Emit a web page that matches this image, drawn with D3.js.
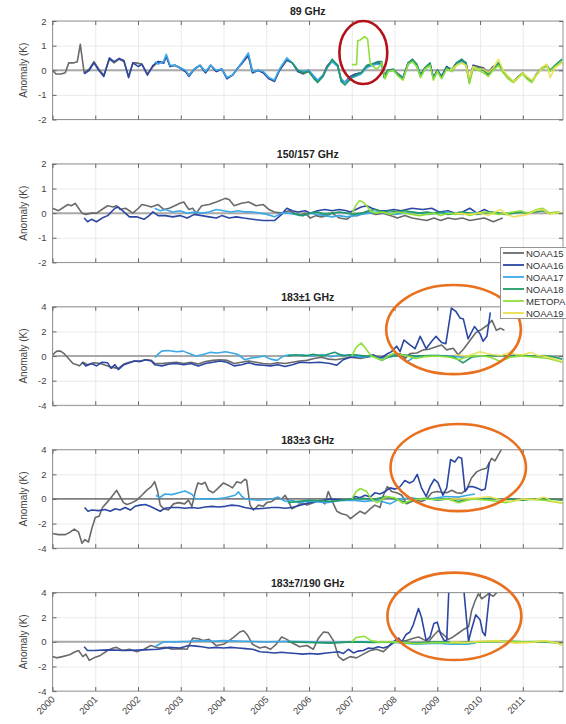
<!DOCTYPE html>
<html><head><meta charset="utf-8">
<script src="https://cdn.jsdelivr.net/npm/d3@7"></script>
<style>
body{margin:0;background:#fff;}
svg{display:block;font-family:"Liberation Sans",Arial,Helvetica,sans-serif;}
</style></head>
<body><svg id="chart" width="566" height="724"></svg>
<script>
// ---------- DATA ----------
const years = [2000,2001,2002,2003,2004,2005,2006,2007,2008,2009,2010,2011];
const panelTitles = ["89 GHz","150/157 GHz","183\u00B11 GHz","183\u00B13 GHz","183\u00B17/190 GHz"];
const panelYMax = [2,2,4,4,4];
const yTicksSmall = [-2,-1,0,1,2];
const yTicksLarge = [-4,-2,0,2,4];
const satNames = ["NOAA15","NOAA16","NOAA17","NOAA18","METOPA","NOAA19"];
const satColors = ["#6a6a6a","#2b47a3","#3ba8e8","#1f9a68","#8fdf3a","#eadf4e"];

// Panel 1: 89 GHz
const p1_NOAA15 = [[2000.0,0.0],[2000.08,-0.15],[2000.2,-0.15],[2000.3,-0.1],[2000.38,0.3],[2000.5,0.3],[2000.58,0.35],[2000.65,1.05],[2000.74,-0.1],[2000.86,0.05],[2000.97,0.35],[2001.08,0.05],[2001.2,-0.2],[2001.33,0.45],[2001.44,0.3],[2001.56,0.45],[2001.67,0.35],[2001.78,-0.25],[2001.88,0.3],[2001.95,0.3],[2002.09,0.25],[2002.22,-0.15],[2002.35,0.15],[2002.47,0.35],[2002.6,0.3],[2002.66,0.6],[2002.75,0.15],[2002.86,0.2],[2002.98,0.1],[2003.11,-0.05],[2003.19,-0.2],[2003.32,0.05],[2003.45,0.2],[2003.58,-0.1],[2003.7,0.2],[2003.83,-0.05],[2003.96,0.05],[2004.08,-0.3],[2004.21,-0.2],[2004.34,0.1],[2004.44,0.3],[2004.58,0.6],[2004.68,-0.1],[2004.81,0.0],[2004.93,-0.1],[2005.06,-0.3],[2005.19,-0.45],[2005.31,0.0],[2005.48,0.4],[2005.61,0.3],[2005.74,-0.05],[2005.86,-0.15],[2005.99,-0.05],[2006.12,-0.3],[2006.2,-0.45],[2006.33,-0.2],[2006.42,0.15],[2006.54,0.4],[2006.67,0.2],[2006.75,-0.35],[2006.84,-0.5],[2006.97,-0.25],[2007.09,-0.15],[2007.22,-0.1],[2007.35,0.15],[2007.47,0.2],[2007.6,0.3],[2007.7,0.25],[2007.76,-0.2],[2007.85,0.0],[2007.97,0.0],[2008.09,-0.15],[2008.2,-0.3],[2008.32,0.3],[2008.42,0.35],[2008.52,0.2],[2008.61,-0.2],[2008.71,0.1],[2008.83,0.25],[2008.91,-0.3],[2009.0,0.0],[2009.1,-0.25],[2009.22,0.15],[2009.34,0.0],[2009.45,0.3],[2009.57,0.35],[2009.67,0.3],[2009.75,-0.4],[2009.84,0.2],[2009.96,0.15],[2010.08,0.1],[2010.19,-0.1],[2010.3,0.15],[2010.45,0.2]];
const p1_NOAA16 = [[2000.74,-0.15],[2000.86,0.0],[2000.97,0.3],[2001.08,0.0],[2001.2,-0.25],[2001.33,0.5],[2001.44,0.35],[2001.56,0.48],[2001.67,0.4],[2001.78,-0.3],[2001.88,0.3],[2002.01,0.15],[2002.09,0.25],[2002.22,-0.2],[2002.35,0.2],[2002.47,0.35],[2002.6,0.3],[2002.66,0.55],[2002.75,0.15],[2002.86,0.2],[2002.98,0.1],[2003.11,-0.05],[2003.19,-0.25],[2003.32,0.05],[2003.45,0.2],[2003.58,-0.1],[2003.7,0.2],[2003.83,-0.05],[2003.96,0.05],[2004.08,-0.35],[2004.21,-0.2],[2004.34,0.1],[2004.44,0.3],[2004.58,0.6],[2004.68,-0.1],[2004.81,0.0],[2004.93,-0.1],[2005.06,-0.35],[2005.19,-0.45],[2005.31,0.0],[2005.48,0.45],[2005.61,0.3],[2005.74,-0.05],[2005.86,-0.1],[2005.99,0.0],[2006.12,-0.3],[2006.2,-0.45],[2006.33,-0.2],[2006.42,0.15],[2006.54,0.4],[2006.67,0.2],[2006.75,-0.4],[2006.84,-0.5],[2006.97,-0.25],[2007.09,-0.15],[2007.22,-0.1],[2007.35,0.15],[2007.47,0.2],[2007.6,0.3],[2007.7,0.25],[2007.76,-0.25],[2007.85,0.0],[2007.97,0.0],[2008.09,-0.2],[2008.2,-0.3],[2008.32,0.3],[2008.42,0.4],[2008.52,0.2],[2008.61,-0.2],[2008.71,0.1],[2008.83,0.25],[2008.91,-0.3],[2009.0,0.0],[2009.1,-0.25],[2009.22,0.15],[2009.34,0.0],[2009.45,0.3],[2009.57,0.4],[2009.67,0.3],[2009.75,-0.45],[2009.84,0.2],[2009.96,0.1],[2010.08,0.05],[2010.19,-0.15],[2010.3,0.1]];
const p1_NOAA17 = [[2002.39,0.35],[2002.47,0.25],[2002.6,0.35],[2002.66,0.65],[2002.75,0.2],[2002.86,0.2],[2002.98,0.1],[2003.11,0.0],[2003.19,-0.2],[2003.32,0.05],[2003.45,0.2],[2003.58,-0.05],[2003.7,0.2],[2003.83,0.0],[2003.96,0.05],[2004.08,-0.3],[2004.21,-0.2],[2004.34,0.1],[2004.44,0.35],[2004.58,0.7],[2004.68,-0.05],[2004.81,0.0],[2004.93,-0.05],[2005.06,-0.3],[2005.19,-0.4],[2005.31,0.05],[2005.48,0.5],[2005.61,0.3],[2005.74,0.0],[2005.86,-0.05],[2005.99,0.0],[2006.12,-0.25],[2006.2,-0.4],[2006.33,-0.2],[2006.42,0.1],[2006.54,0.35],[2006.67,0.15],[2006.75,-0.35],[2006.84,-0.5],[2006.97,-0.3],[2007.09,-0.25],[2007.22,-0.15],[2007.35,0.1],[2007.47,0.2],[2007.6,0.25],[2007.7,0.2],[2007.76,-0.3],[2007.85,-0.05],[2007.97,0.0],[2008.09,-0.2],[2008.2,-0.3],[2008.32,0.25],[2008.42,0.35],[2008.52,0.15],[2008.61,-0.25],[2008.71,0.05],[2008.83,0.2],[2008.91,-0.3],[2009.0,-0.05],[2009.1,-0.3],[2009.22,0.1],[2009.34,-0.05],[2009.45,0.25],[2009.57,0.35],[2009.67,0.25],[2009.75,-0.4],[2009.84,0.15],[2009.92,0.05]];
const p1_NOAA18 = [[2005.55,0.35],[2005.61,0.3],[2005.74,0.0],[2005.86,-0.1],[2005.99,-0.05],[2006.12,-0.35],[2006.2,-0.5],[2006.33,-0.25],[2006.42,0.1],[2006.54,0.45],[2006.67,0.2],[2006.75,-0.45],[2006.84,-0.6],[2006.97,-0.35],[2007.09,-0.2],[2007.22,-0.1],[2007.35,0.2],[2007.47,0.25],[2007.6,0.35],[2007.7,0.35],[2007.76,-0.3],[2007.85,0.0],[2007.97,0.05],[2008.09,-0.2],[2008.2,-0.35],[2008.32,0.3],[2008.42,0.45],[2008.52,0.25],[2008.61,-0.2],[2008.71,0.1],[2008.83,0.3],[2008.91,-0.35],[2009.0,0.0],[2009.1,-0.3],[2009.22,0.1],[2009.34,0.05],[2009.45,0.3],[2009.57,0.45],[2009.67,0.3],[2009.75,-0.5],[2009.84,0.15],[2009.96,0.1],[2010.08,0.0],[2010.19,-0.2],[2010.31,0.05],[2010.43,0.3],[2010.54,-0.05],[2010.66,-0.3],[2010.78,-0.45],[2010.9,-0.25],[2011.0,-0.1],[2011.09,-0.3],[2011.21,-0.45],[2011.32,-0.15],[2011.44,0.1],[2011.56,0.2],[2011.64,0.0],[2011.75,0.2],[2011.92,0.45]];
const p1_METOPA = [[2007.0,0.23],[2007.11,0.23],[2007.14,1.2],[2007.2,1.23],[2007.3,1.36],[2007.37,1.27],[2007.43,0.27],[2007.52,0.12],[2007.6,0.05],[2007.7,0.3],[2007.78,-0.35],[2007.85,-0.05],[2007.97,0.0],[2008.09,-0.25],[2008.2,-0.4],[2008.32,0.25],[2008.42,0.35],[2008.52,0.15],[2008.61,-0.3],[2008.71,0.05],[2008.83,0.2],[2008.91,-0.4],[2009.0,-0.05],[2009.1,-0.35],[2009.22,0.05],[2009.34,-0.05],[2009.45,0.2],[2009.57,0.3],[2009.67,0.2],[2009.75,-0.55],[2009.84,0.1],[2009.96,0.0],[2010.08,-0.1],[2010.19,-0.25],[2010.31,0.0],[2010.43,0.2],[2010.54,-0.1],[2010.66,-0.35],[2010.78,-0.5],[2010.9,-0.3],[2011.0,-0.15],[2011.09,-0.35],[2011.21,-0.5],[2011.32,-0.2],[2011.44,0.05],[2011.56,0.15],[2011.64,-0.05],[2011.75,0.15],[2011.92,0.35]];
const p1_NOAA19 = [[2009.3,0.0],[2009.45,0.2],[2009.57,0.3],[2009.67,0.2],[2009.75,-0.3],[2009.84,0.15],[2009.96,0.05],[2010.08,0.05],[2010.19,-0.1],[2010.31,0.1],[2010.43,0.45],[2010.54,0.0],[2010.66,-0.25],[2010.78,-0.45],[2010.9,-0.3],[2011.0,-0.1],[2011.09,-0.25],[2011.21,-0.4],[2011.32,-0.2],[2011.44,0.1],[2011.56,0.25],[2011.64,-0.3],[2011.75,0.1],[2011.92,0.3]];

// Panel 2: 150/157 GHz
const p2_NOAA15 = [[2000.0,0.2],[2000.14,0.1],[2000.36,0.35],[2000.44,0.3],[2000.53,0.4],[2000.57,0.3],[2000.69,0.0],[2000.78,-0.05],[2000.91,0.0],[2001.03,0.0],[2001.2,0.2],[2001.29,0.3],[2001.42,0.25],[2001.5,0.3],[2001.58,0.15],[2001.71,0.2],[2001.88,0.0],[2002.01,0.2],[2002.09,0.35],[2002.22,0.3],[2002.31,0.25],[2002.47,0.35],[2002.6,0.15],[2002.73,0.2],[2002.86,0.3],[2002.98,0.4],[2003.07,0.45],[2003.19,0.15],[2003.28,0.2],[2003.36,0.0],[2003.49,0.3],[2003.66,0.35],[2003.83,0.45],[2004.04,0.6],[2004.13,0.55],[2004.25,0.3],[2004.42,0.4],[2004.59,0.45],[2004.76,0.3],[2004.93,0.35],[2005.06,0.15],[2005.19,0.05],[2005.36,0.0],[2005.53,0.1],[2005.65,0.0],[2005.78,-0.1],[2005.91,0.0],[2006.03,-0.2],[2006.16,-0.1],[2006.29,-0.15],[2006.42,-0.1],[2006.54,0.0],[2006.71,-0.2],[2006.88,-0.25],[2007.01,-0.1],[2007.14,-0.1],[2007.26,0.0],[2007.39,0.05],[2007.56,-0.05],[2007.73,0.0],[2007.9,-0.1],[2008.07,-0.2],[2008.24,-0.1],[2008.41,-0.2],[2008.58,-0.25],[2008.75,-0.3],[2008.92,-0.2],[2009.08,-0.3],[2009.25,-0.2],[2009.42,-0.25],[2009.59,-0.2],[2009.76,-0.3],[2009.93,-0.25],[2010.1,-0.2],[2010.31,-0.35],[2010.53,-0.2]];
const p2_NOAA16 = [[2000.74,-0.2],[2000.82,-0.35],[2000.91,-0.25],[2001.03,-0.35],[2001.16,-0.2],[2001.29,-0.1],[2001.46,0.2],[2001.54,0.25],[2001.67,0.05],[2001.8,-0.15],[2001.97,-0.15],[2002.14,-0.25],[2002.26,-0.1],[2002.35,0.05],[2002.47,-0.1],[2002.64,-0.1],[2002.81,-0.15],[2002.98,-0.1],[2003.15,-0.2],[2003.32,-0.05],[2003.49,-0.1],[2003.66,-0.15],[2003.83,-0.2],[2003.96,-0.1],[2004.13,-0.2],[2004.3,-0.15],[2004.47,-0.2],[2004.68,-0.25],[2004.93,-0.3],[2005.19,-0.3],[2005.36,-0.05],[2005.48,0.2],[2005.61,0.1],[2005.74,0.05],[2005.91,0.1],[2006.03,0.0],[2006.2,0.1],[2006.37,0.15],[2006.54,0.1],[2006.71,0.15],[2006.88,0.1],[2006.97,0.05],[2007.22,0.25],[2007.35,0.3],[2007.47,0.2],[2007.64,0.1],[2007.81,0.1],[2007.98,0.15],[2008.15,0.1],[2008.41,0.2],[2008.66,0.15],[2008.87,0.2],[2009.04,0.05],[2009.25,0.1],[2009.42,0.0],[2009.59,0.05],[2009.76,0.2],[2009.93,0.0],[2010.1,0.15],[2010.27,0.0]];
const p2_NOAA17 = [[2002.39,0.2],[2002.52,0.1],[2002.64,0.15],[2002.81,0.05],[2002.98,0.1],[2003.15,0.0],[2003.32,0.05],[2003.49,0.0],[2003.66,0.05],[2003.83,0.15],[2004.0,0.1],[2004.17,0.05],[2004.34,0.1],[2004.51,0.05],[2004.68,0.05],[2004.85,0.0],[2005.02,-0.05],[2005.19,-0.15],[2005.36,0.0],[2005.53,0.0],[2005.69,-0.05],[2005.86,-0.1],[2006.03,0.0],[2006.2,-0.05],[2006.37,-0.1],[2006.54,-0.15],[2006.71,-0.1],[2006.88,-0.15],[2007.05,-0.1],[2007.22,-0.05],[2007.4,0.0],[2007.6,0.05],[2007.8,0.0],[2008.0,-0.05],[2008.2,0.0],[2008.4,0.05],[2008.6,0.0],[2008.8,-0.05],[2009.0,0.0],[2009.2,0.05],[2009.4,0.0],[2009.6,-0.05],[2009.8,0.0],[2009.9,0.05]];
const p2_NOAA18 = [[2005.61,0.0],[2005.86,-0.1],[2006.03,0.0],[2006.2,0.05],[2006.37,-0.05],[2006.54,0.0],[2006.71,0.05],[2006.88,0.0],[2007.05,-0.05],[2007.22,0.0],[2007.39,0.1],[2007.56,0.15],[2007.73,0.05],[2007.9,0.1],[2008.07,0.05],[2008.24,0.1],[2008.41,0.05],[2008.58,0.0],[2008.75,0.05],[2008.92,0.0],[2009.08,0.05],[2009.25,-0.05],[2009.42,0.0],[2009.59,0.05],[2009.76,0.0],[2009.93,-0.05],[2010.1,0.0],[2010.27,0.05],[2010.44,0.0],[2010.61,-0.05],[2010.78,0.0],[2010.95,0.05],[2011.12,0.0],[2011.29,0.05],[2011.46,0.1],[2011.63,0.0],[2011.8,0.05],[2011.92,0.0]];
const p2_METOPA = [[2007.01,0.0],[2007.09,0.3],[2007.18,0.5],[2007.26,0.45],[2007.35,0.3],[2007.43,0.1],[2007.56,0.0],[2007.73,0.05],[2007.9,-0.05],[2008.07,0.05],[2008.24,0.0],[2008.41,-0.05],[2008.58,-0.1],[2008.75,-0.05],[2008.92,0.0],[2009.08,-0.1],[2009.25,0.0],[2009.42,-0.05],[2009.59,0.0],[2009.76,-0.1],[2009.93,0.0],[2010.1,0.05],[2010.27,0.0],[2010.44,-0.05],[2010.61,0.0],[2010.78,0.05],[2010.95,0.1],[2011.12,0.0],[2011.33,0.15],[2011.46,0.2],[2011.63,0.0],[2011.92,0.0]];
const p2_NOAA19 = [[2009.4,0.0],[2009.7,-0.05],[2010.02,0.0],[2010.19,-0.1],[2010.36,0.05],[2010.48,0.15],[2010.61,-0.05],[2010.78,-0.15],[2010.95,-0.1],[2011.12,-0.05],[2011.29,0.1],[2011.46,0.15],[2011.63,-0.05],[2011.8,0.05],[2011.92,0.0]];

// Panel 3: 183±1 GHz
const p3_NOAA15 = [[2000.0,0.1],[2000.1,0.4],[2000.19,0.4],[2000.27,0.2],[2000.4,-0.3],[2000.48,-0.6],[2000.57,-0.7],[2000.63,-0.8],[2000.71,-0.5],[2000.82,-0.7],[2000.97,-0.55],[2001.12,-0.6],[2001.29,-0.8],[2001.37,-0.9],[2001.54,-1.0],[2001.67,-0.65],[2001.8,-0.5],[2001.92,-0.4],[2002.05,-0.4],[2002.18,-0.3],[2002.31,-0.35],[2002.39,-0.6],[2002.56,-0.6],[2002.73,-0.55],[2002.9,-0.5],[2003.07,-0.6],[2003.24,-0.5],[2003.41,-0.65],[2003.58,-0.45],[2003.75,-0.35],[2003.92,-0.3],[2004.08,-0.35],[2004.25,-0.6],[2004.42,-0.5],[2004.59,-0.4],[2004.76,-0.5],[2004.93,-0.6],[2005.1,-0.65],[2005.27,-0.55],[2005.44,-0.6],[2005.61,-0.5],[2005.78,-0.4],[2005.95,-0.35],[2006.12,-0.2],[2006.29,-0.1],[2006.46,-0.25],[2006.63,-0.3],[2006.8,-0.2],[2006.97,-0.1],[2007.2,-0.2],[2007.5,0.0],[2007.7,-0.1],[2007.9,0.0],[2008.13,0.2],[2008.25,-0.2],[2008.36,0.2],[2008.52,0.25],[2008.67,0.5],[2008.8,0.55],[2008.99,0.77],[2009.1,0.9],[2009.22,0.5],[2009.37,0.63],[2009.49,0.1],[2009.62,0.6],[2009.75,1.2],[2009.9,1.9],[2010.05,2.2],[2010.17,2.5],[2010.28,2.9],[2010.38,2.1],[2010.48,2.25],[2010.57,2.1]];
const p3_NOAA16 = [[2000.69,-0.5],[2000.78,-0.8],[2000.91,-0.6],[2001.03,-0.8],[2001.16,-0.5],[2001.29,-0.55],[2001.37,-1.0],[2001.46,-0.7],[2001.54,-1.1],[2001.67,-0.7],[2001.8,-0.55],[2001.92,-0.4],[2002.05,-0.45],[2002.18,-0.3],[2002.31,-0.4],[2002.39,-0.7],[2002.56,-0.8],[2002.73,-0.65],[2002.9,-0.6],[2003.07,-0.7],[2003.24,-0.6],[2003.41,-0.8],[2003.58,-0.6],[2003.75,-0.5],[2003.92,-0.4],[2004.08,-0.5],[2004.25,-0.8],[2004.42,-0.7],[2004.59,-0.55],[2004.76,-0.7],[2004.93,-0.75],[2005.1,-0.8],[2005.27,-0.7],[2005.44,-0.85],[2005.61,-0.7],[2005.79,-0.5],[2006.02,-0.55],[2006.25,-0.5],[2006.49,-0.6],[2006.65,-0.74],[2006.8,-0.3],[2006.96,-0.1],[2007.2,-0.05],[2007.35,-0.05],[2007.5,0.1],[2007.66,-0.2],[2007.82,0.16],[2007.93,0.36],[2008.05,0.8],[2008.13,0.36],[2008.22,1.3],[2008.36,0.9],[2008.48,0.6],[2008.6,1.6],[2008.74,0.6],[2008.87,1.2],[2008.97,1.6],[2009.1,1.1],[2009.2,1.0],[2009.33,3.9],[2009.44,3.6],[2009.53,3.1],[2009.61,3.0],[2009.72,1.4],[2009.87,2.4],[2010.0,1.8],[2010.07,1.2],[2010.16,1.6],[2010.24,3.55]];
const p3_NOAA17 = [[2002.39,-0.1],[2002.55,0.4],[2002.7,0.45],[2002.9,0.35],[2003.05,0.4],[2003.2,0.2],[2003.35,0.0],[2003.5,0.1],[2003.7,0.3],[2003.85,0.25],[2004.05,0.35],[2004.25,0.2],[2004.35,0.1],[2004.5,-0.3],[2004.65,-0.15],[2004.8,-0.1],[2004.95,0.0],[2005.1,-0.25],[2005.25,-0.35],[2005.4,0.0],[2005.55,0.1],[2005.7,0.05],[2005.85,0.1],[2006.05,0.0],[2006.3,0.1],[2006.5,-0.05],[2006.75,0.1],[2007.0,0.05],[2007.25,-0.1],[2007.5,0.0],[2007.7,-0.3],[2007.9,0.1],[2008.1,0.0],[2008.3,-0.45],[2008.45,-0.1],[2008.7,0.0],[2009.0,0.05],[2009.3,0.0],[2009.6,-0.1],[2009.9,0.05]];
const p3_NOAA18 = [[2005.5,0.0],[2005.7,0.1],[2005.9,0.0],[2006.1,0.15],[2006.3,0.0],[2006.6,0.3],[2006.8,0.0],[2006.95,0.1],[2007.1,0.1],[2007.3,0.0],[2007.5,0.0],[2007.7,-0.35],[2007.85,-0.1],[2008.0,0.0],[2008.2,0.1],[2008.5,0.0],[2008.8,0.05],[2009.0,0.05],[2009.2,0.0],[2009.4,-0.1],[2009.6,-0.55],[2009.8,-0.1],[2010.0,0.0],[2010.3,0.05],[2010.6,0.0],[2010.9,0.1],[2011.2,0.0],[2011.5,0.05],[2011.75,-0.1],[2011.92,-0.25]];
const p3_METOPA = [[2007.0,0.0],[2007.1,0.7],[2007.22,1.05],[2007.33,0.6],[2007.45,0.0],[2007.6,-0.2],[2007.72,-0.35],[2007.85,0.0],[2008.0,0.25],[2008.15,0.1],[2008.3,0.0],[2008.5,-0.2],[2008.7,-0.05],[2009.0,0.0],[2009.3,-0.1],[2009.5,-0.3],[2009.7,-0.05],[2010.0,0.05],[2010.25,-0.1],[2010.47,-0.45],[2010.7,-0.1],[2011.0,0.0],[2011.3,-0.1],[2011.6,-0.2],[2011.92,-0.5]];
const p3_NOAA19 = [[2009.4,0.1],[2009.7,0.0],[2010.0,0.35],[2010.15,0.2],[2010.3,0.1],[2010.5,0.05],[2010.7,0.3],[2010.85,0.1],[2011.0,0.1],[2011.2,0.3],[2011.35,0.05],[2011.5,0.0],[2011.7,-0.2],[2011.92,-0.45]];

// Panel 4: 183±3 GHz
const p4_NOAA15 = [[2000.0,-2.8],[2000.14,-2.9],[2000.3,-2.9],[2000.41,-2.7],[2000.51,-2.45],[2000.61,-2.7],[2000.69,-3.6],[2000.76,-3.3],[2000.84,-3.5],[2000.92,-2.4],[2001.0,-1.5],[2001.09,-1.4],[2001.17,-0.7],[2001.27,-0.3],[2001.39,0.2],[2001.5,0.7],[2001.58,0.2],[2001.66,-0.3],[2001.74,-0.45],[2001.86,-0.3],[2001.97,-0.1],[2002.09,0.3],[2002.2,0.7],[2002.31,1.0],[2002.39,1.4],[2002.46,0.6],[2002.52,-0.5],[2002.6,-0.8],[2002.71,-0.9],[2002.83,-0.4],[2002.95,-0.3],[2003.09,-0.4],[2003.18,-0.1],[2003.26,-0.6],[2003.34,0.6],[2003.4,1.3],[2003.49,1.2],[2003.57,1.35],[2003.65,0.7],[2003.76,0.5],[2003.88,0.9],[2004.0,1.3],[2004.12,1.1],[2004.21,0.9],[2004.31,1.4],[2004.41,1.3],[2004.5,1.6],[2004.54,1.5],[2004.62,-0.5],[2004.7,-0.9],[2004.82,-0.5],[2004.93,-0.6],[2005.01,-0.3],[2005.13,-0.2],[2005.25,0.1],[2005.36,0.0],[2005.44,0.3],[2005.52,-0.2],[2005.6,-0.8],[2005.71,-0.6],[2005.83,-0.3],[2005.95,-0.5],[2006.1,-0.3],[2006.26,-0.1],[2006.37,-0.4],[2006.45,0.6],[2006.57,-0.4],[2006.65,-1.0],[2006.76,-1.2],[2006.88,-1.3],[2006.97,-1.6],[2007.08,-1.3],[2007.19,-1.0],[2007.31,-1.2],[2007.43,-0.8],[2007.54,-0.5],[2007.66,-0.7],[2007.74,0.3],[2007.83,1.0],[2007.93,0.6],[2008.05,0.5],[2008.17,0.3],[2008.28,-0.4],[2008.4,-0.2],[2008.52,-0.1],[2008.63,-0.2],[2008.75,0.0],[2008.87,0.5],[2008.99,0.6],[2009.1,0.55],[2009.22,0.5],[2009.34,0.7],[2009.45,0.5],[2009.57,0.45],[2009.69,0.8],[2009.8,1.7],[2009.92,2.2],[2010.04,2.4],[2010.15,2.5],[2010.27,3.3],[2010.35,3.1],[2010.43,3.6],[2010.5,4.0]];
const p4_NOAA16 = [[2000.75,-0.7],[2000.83,-1.0],[2000.92,-0.9],[2001.08,-0.95],[2001.23,-0.85],[2001.35,-1.0],[2001.47,-0.8],[2001.58,-0.9],[2001.7,-0.7],[2001.82,-0.9],[2001.93,-0.6],[2002.05,-0.5],[2002.17,-0.45],[2002.28,-0.6],[2002.4,-0.8],[2002.52,-1.0],[2002.63,-0.75],[2002.79,-0.7],[2002.95,-0.7],[2003.1,-0.75],[2003.26,-0.7],[2003.41,-0.75],[2003.57,-0.65],[2003.73,-0.6],[2003.88,-0.65],[2004.04,-0.6],[2004.19,-0.5],[2004.35,-0.55],[2004.5,-0.7],[2004.66,-0.8],[2004.82,-0.8],[2004.97,-0.75],[2005.13,-0.7],[2005.28,-0.7],[2005.44,-0.75],[2005.6,-0.7],[2005.75,-0.55],[2005.91,-0.4],[2006.02,-0.3],[2006.26,-0.15],[2006.49,0.0],[2006.72,-0.05],[2006.96,-0.1],[2007.08,0.2],[2007.19,0.1],[2007.31,0.3],[2007.43,0.15],[2007.54,0.5],[2007.66,0.4],[2007.78,0.6],[2007.89,0.9],[2008.01,0.8],[2008.13,1.0],[2008.24,1.5],[2008.35,1.3],[2008.44,1.45],[2008.53,2.0],[2008.63,0.9],[2008.74,0.2],[2008.83,1.0],[2008.93,1.6],[2009.02,1.3],[2009.13,0.3],[2009.22,0.9],[2009.31,3.2],[2009.41,3.0],[2009.49,3.4],[2009.57,3.3],[2009.65,0.6],[2009.73,1.0],[2009.83,1.0],[2009.92,0.9],[2010.04,0.7],[2010.12,0.8],[2010.22,3.0]];
const p4_NOAA17 = [[2002.42,0.3],[2002.5,0.1],[2002.63,0.4],[2002.79,0.35],[2002.95,0.5],[2003.1,0.65],[2003.26,0.38],[2003.34,0.03],[2003.57,0.0],[2003.8,0.0],[2004.04,0.1],[2004.27,0.3],[2004.35,0.57],[2004.43,0.2],[2004.5,0.0],[2004.82,-0.1],[2005.13,0.0],[2005.28,0.15],[2005.44,-0.2],[2005.6,-0.1],[2005.75,-0.3],[2005.91,-0.2],[2006.1,-0.2],[2006.4,-0.3],[2006.7,-0.15],[2007.0,-0.1],[2007.3,-0.2],[2007.6,-0.1],[2007.9,-0.4],[2008.1,0.0],[2008.4,0.1],[2008.6,-0.05],[2008.9,0.05],[2009.2,0.2],[2009.5,0.15],[2009.7,0.3],[2009.88,0.4]];
const p4_NOAA18 = [[2005.5,-0.3],[2005.75,-0.2],[2006.0,-0.1],[2006.25,-0.15],[2006.5,-0.2],[2006.75,-0.1],[2007.0,0.0],[2007.25,0.05],[2007.5,-0.05],[2007.8,0.2],[2008.0,0.0],[2008.3,-0.3],[2008.5,0.0],[2008.75,0.05],[2009.0,-0.1],[2009.25,0.0],[2009.5,-0.2],[2009.75,-0.05],[2010.0,0.0],[2010.25,0.05],[2010.5,-0.1],[2010.75,0.0],[2011.0,-0.1],[2011.25,0.0],[2011.5,0.0],[2011.75,-0.05],[2011.92,-0.1]];
const p4_METOPA = [[2007.0,0.0],[2007.1,0.6],[2007.2,0.85],[2007.35,0.6],[2007.45,0.0],[2007.6,-0.3],[2007.8,0.2],[2008.0,0.1],[2008.2,-0.35],[2008.4,-0.1],[2008.6,0.0],[2009.0,-0.05],[2009.25,0.0],[2009.5,-0.3],[2009.8,0.0],[2010.2,-0.1],[2010.6,-0.3],[2011.0,0.0],[2011.5,-0.1],[2011.92,-0.35]];
const p4_NOAA19 = [[2009.3,0.0],[2009.7,0.05],[2010.0,0.1],[2010.2,0.2],[2010.5,-0.1],[2010.7,-0.2],[2011.0,0.0],[2011.3,-0.05],[2011.5,0.15],[2011.7,-0.2],[2011.92,-0.3]];

// Panel 5: 183±7/190 GHz
const p5_NOAA15 = [[2000.0,-1.2],[2000.1,-1.3],[2000.23,-1.2],[2000.4,-1.05],[2000.53,-0.8],[2000.61,-0.7],[2000.71,-1.2],[2000.78,-1.0],[2000.86,-1.5],[2000.97,-1.3],[2001.12,-1.1],[2001.29,-0.7],[2001.42,-0.5],[2001.5,-0.45],[2001.63,-0.7],[2001.8,-0.6],[2001.97,-0.8],[2002.14,-0.6],[2002.3,-0.3],[2002.47,-0.5],[2002.64,-0.45],[2002.81,-0.6],[2002.98,-0.55],[2003.15,-0.6],[2003.28,0.3],[2003.41,0.25],[2003.53,0.1],[2003.66,0.2],[2003.83,-0.3],[2004.0,-0.2],[2004.13,0.1],[2004.25,0.4],[2004.38,0.8],[2004.47,0.9],[2004.55,0.6],[2004.68,-0.2],[2004.85,-0.5],[2004.97,-0.4],[2005.1,-0.6],[2005.23,-0.2],[2005.36,0.4],[2005.48,0.2],[2005.61,-0.1],[2005.78,-0.4],[2005.95,-0.3],[2006.1,-0.6],[2006.22,0.3],[2006.34,0.8],[2006.45,0.75],[2006.57,0.1],[2006.69,-1.2],[2006.8,-1.5],[2006.96,-1.2],[2007.11,-1.3],[2007.27,-1.0],[2007.43,-0.7],[2007.58,-0.6],[2007.74,-0.8],[2007.89,-0.3],[2008.01,0.0],[2008.13,0.0],[2008.28,0.1],[2008.44,0.3],[2008.56,0.4],[2008.67,0.2],[2008.79,0.0],[2008.91,0.5],[2009.02,0.9],[2009.14,0.6],[2009.26,0.2],[2009.37,0.4],[2009.49,0.7],[2009.61,1.0],[2009.73,1.2],[2009.8,2.5],[2009.88,3.3],[2009.96,3.9],[2010.04,3.5],[2010.12,3.7],[2010.19,3.9],[2010.31,3.7],[2010.39,4.0]];
const p5_NOAA16 = [[2000.74,-0.4],[2000.82,-0.7],[2000.97,-0.7],[2001.29,-0.65],[2001.71,-0.7],[2002.14,-0.65],[2002.47,-0.6],[2002.73,-0.45],[2002.98,-0.5],[2003.19,-0.3],[2003.36,-0.35],[2003.49,-0.4],[2003.66,-0.5],[2003.83,-0.45],[2004.0,-0.5],[2004.17,-0.45],[2004.34,-0.5],[2004.51,-0.55],[2004.68,-0.6],[2004.85,-0.8],[2005.02,-0.85],[2005.19,-0.9],[2005.36,-0.85],[2005.53,-0.9],[2005.69,-0.95],[2005.86,-1.0],[2006.03,-0.95],[2006.2,-1.0],[2006.41,-0.9],[2006.57,-0.85],[2006.69,-0.8],[2006.8,-0.95],[2006.92,-0.6],[2007.04,-0.9],[2007.15,-0.75],[2007.27,-0.7],[2007.39,-0.5],[2007.5,-0.55],[2007.62,-0.4],[2007.74,-0.5],[2007.86,-0.35],[2007.97,0.0],[2008.09,0.3],[2008.17,0.0],[2008.27,0.6],[2008.36,0.8],[2008.44,1.4],[2008.56,2.7],[2008.63,2.0],[2008.74,0.1],[2008.83,0.4],[2008.92,1.5],[2009.0,1.6],[2009.08,0.6],[2009.16,0.1],[2009.22,0.1],[2009.28,5.0],[2009.45,6.0],[2009.6,5.0],[2009.73,0.05],[2009.8,1.0],[2009.9,2.2],[2010.0,1.8],[2010.06,0.8],[2010.12,0.5],[2010.17,2.2],[2010.24,4.5]];
const p5_NOAA17 = [[2002.4,-0.4],[2002.5,-0.2],[2002.6,0.0],[2002.9,0.0],[2003.2,0.05],[2003.4,0.1],[2003.7,0.05],[2004.0,0.1],[2004.5,0.05],[2005.0,0.0],[2005.5,0.05],[2006.0,0.0],[2006.5,-0.05],[2007.0,0.0],[2007.5,0.0],[2008.0,-0.05],[2008.5,-0.2],[2009.0,-0.1],[2009.3,-0.2],[2009.7,-0.2],[2009.9,-0.1]];
const p5_NOAA18 = [[2005.5,0.0],[2006.0,-0.05],[2006.5,-0.1],[2007.0,0.0],[2007.5,-0.05],[2008.0,0.0],[2008.5,-0.1],[2009.0,0.0],[2009.5,-0.05],[2010.0,0.0],[2010.5,0.05],[2011.0,0.0],[2011.5,0.0],[2011.92,-0.1]];
const p5_METOPA = [[2007.0,0.0],[2007.1,0.35],[2007.3,0.45],[2007.45,0.1],[2007.6,0.0],[2008.0,0.0],[2008.5,-0.15],[2009.0,-0.05],[2009.5,-0.1],[2010.0,0.0],[2010.5,0.05],[2011.0,0.0],[2011.5,0.05],[2011.92,-0.1]];
const p5_NOAA19 = [[2009.3,0.0],[2009.7,-0.05],[2010.0,0.05],[2010.4,0.1],[2010.8,-0.1],[2011.2,-0.05],[2011.5,0.1],[2011.8,-0.1],[2011.92,-0.3]];

// annotation ellipses: panel, centre year, centre value, radius (years), radius (K), colour
const annoPanel = [0,2,3,4];
const annoYear = [2007.27,2009.38,2009.49,2009.4];
const annoValue = [0.72,2.15,2.55,2.07];
const annoRx = [0.56,1.575,1.584,1.567];
const annoRy = [1.28,3.62,3.54,3.55];
const annoColor = ["#b3121b","#e8701e","#e8701e","#e8701e"];

// ---------- DRAW ----------
const panelSeries = [
  [p1_NOAA15,p1_NOAA16,p1_NOAA17,p1_NOAA18,p1_METOPA,p1_NOAA19],
  [p2_NOAA15,p2_NOAA16,p2_NOAA17,p2_NOAA18,p2_METOPA,p2_NOAA19],
  [p3_NOAA15,p3_NOAA16,p3_NOAA17,p3_NOAA18,p3_METOPA,p3_NOAA19],
  [p4_NOAA15,p4_NOAA16,p4_NOAA17,p4_NOAA18,p4_METOPA,p4_NOAA19],
  [p5_NOAA15,p5_NOAA16,p5_NOAA17,p5_NOAA18,p5_METOPA,p5_NOAA19]
];

const svg = d3.select("#chart");
const left = 52.5, right = 563, pTop0 = 21, pStep = 142.9, pH = 98.5;
const x = d3.scaleLinear().domain([2000, 2011.94]).range([left, right]);
const yScales = [];

panelSeries.forEach((series, i) => {
  const top = pTop0 + i * pStep, bottom = top + pH;
  const ymax = panelYMax[i];
  const y = d3.scaleLinear().domain([-ymax, ymax]).range([bottom, top]);
  yScales.push(y);
  const ticks = ymax === 2 ? yTicksSmall : yTicksLarge;
  const g = svg.append("g");

  g.append("rect").attr("x", left).attr("y", top).attr("width", right - left).attr("height", pH).attr("fill", "#fff");

  // grid
  g.append("g").attr("transform", `translate(0,${bottom})`)
    .call(d3.axisBottom(x).tickValues(years).tickSize(-pH).tickFormat(""))
    .call(a => { a.select(".domain").remove(); a.selectAll("line").attr("stroke", "#e4e4e4").attr("stroke-width", 0.8); });
  g.append("g").attr("transform", `translate(${left},0)`)
    .call(d3.axisLeft(y).tickValues(ticks).tickSize(-(right - left)).tickFormat(""))
    .call(a => { a.select(".domain").remove(); a.selectAll("line").attr("stroke", "#e4e4e4").attr("stroke-width", 0.8); });

  // zero line
  g.append("line").attr("x1", left).attr("x2", right).attr("y1", y(0)).attr("y2", y(0))
    .attr("stroke", i === 3 ? "#555" : "#a9a9a9").attr("stroke-width", i === 3 ? 1.2 : 2);

  // clip
  const cid = "clip" + i;
  svg.append("clipPath").attr("id", cid).append("rect")
    .attr("x", left).attr("y", top).attr("width", right - left).attr("height", pH);

  const line = d3.line().x(d => x(d[0])).y(d => y(d[1]));
  const lg = g.append("g").attr("clip-path", `url(#${cid})`);
  series.forEach((data, k) => {
    lg.append("path").datum(data).attr("d", line).attr("fill", "none")
      .attr("stroke", satColors[k]).attr("stroke-width", 1.6)
      .attr("stroke-linejoin", "round").attr("stroke-opacity", k === 5 ? 0.9 : 1);
  });

  // box + inward ticks
  g.append("rect").attr("x", left).attr("y", top).attr("width", right - left).attr("height", pH)
    .attr("fill", "none").attr("stroke", "#8a8a8a").attr("stroke-width", 0.9);
  const tickStyle = a => { a.select(".domain").remove(); a.selectAll("line").attr("stroke", "#666"); };
  g.append("g").attr("transform", `translate(0,${bottom})`)
    .call(d3.axisBottom(x).tickValues(years).tickSize(-4).tickFormat("")).call(tickStyle);
  g.append("g").attr("transform", `translate(0,${top})`)
    .call(d3.axisTop(x).tickValues(years).tickSize(-4).tickFormat("")).call(tickStyle);
  g.append("g").attr("transform", `translate(${right},0)`)
    .call(d3.axisRight(y).tickValues(ticks).tickSize(-4).tickFormat("")).call(tickStyle);
  const la = g.append("g").attr("transform", `translate(${left},0)`)
    .call(d3.axisLeft(y).tickValues(ticks).tickSize(-4).tickPadding(6).tickFormat(d => String(d).replace("\u2212", "-")))
    .call(tickStyle);
  la.selectAll("text").attr("font-size", 9.5).attr("fill", "#444").attr("font-family", "Liberation Sans, Arial, sans-serif");

  // title
  g.append("text").attr("x", (left + right) / 2).attr("y", top - 6).attr("text-anchor", "middle")
    .attr("font-size", 10.5).attr("font-weight", "bold").attr("fill", "#222").text(panelTitles[i]);
  // y label
  g.append("text").attr("transform", `translate(27,${(top + bottom) / 2}) rotate(-90)`)
    .attr("text-anchor", "middle").attr("font-size", 10).attr("fill", "#444").text("Anomaly (K)");

  // year labels on bottom panel
  if (i === panelSeries.length - 1) {
    g.selectAll(".yl").data(years).enter().append("text")
      .attr("transform", d => `translate(${x(d) + 3},${bottom + 9}) rotate(-45)`)
      .attr("text-anchor", "end").attr("font-size", 9.5).attr("fill", "#444").text(d => d);
  }
});

// annotation ellipses
annoPanel.forEach((p, j) => {
  const y = yScales[p];
  svg.append("ellipse")
    .attr("cx", x(annoYear[j])).attr("cy", y(annoValue[j]))
    .attr("rx", x(annoYear[j] + annoRx[j]) - x(annoYear[j]))
    .attr("ry", y(0) - y(annoRy[j]))
    .attr("fill", "none").attr("stroke", annoColor[j]).attr("stroke-width", 2.6);
});

// legend
const lgd = svg.append("g");
lgd.append("rect").attr("x", 500.5).attr("y", 247.5).attr("width", 80).attr("height", 71)
  .attr("fill", "#fff").attr("stroke", "#8a8a8a").attr("stroke-width", 0.9);
satNames.forEach((n, k) => {
  const yy = 253 + k * 12;
  lgd.append("line").attr("x1", 503).attr("x2", 524).attr("y1", yy).attr("y2", yy)
    .attr("stroke", satColors[k]).attr("stroke-width", 1.8);
  lgd.append("text").attr("x", 526).attr("y", yy + 3.5).attr("font-size", 9.5).attr("fill", "#333").text(n);
});
</script>
</body></html>
